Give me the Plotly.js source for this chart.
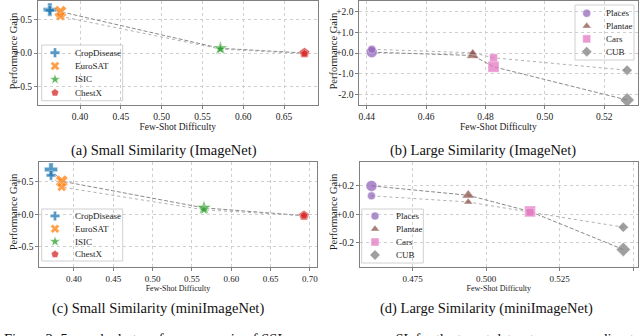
<!DOCTYPE html>
<html><head><meta charset="utf-8">
<script src="https://cdn.plot.ly/plotly-3.0.1.min.js"></script>
<style>html,body{margin:0;padding:0;background:#fff}#chart{width:640px;height:336px}</style>
</head><body><div id="chart"></div>
<script>
// ---------------- Data ----------------
const smallNames = ['CropDisease', 'EuroSAT', 'ISIC', 'ChestX'];
const largeNames = ['Places', 'Plantae', 'Cars', 'CUB'];

// (a) Small Similarity (ImageNet)
const aDifficulty = [0.363, 0.376, 0.572, 0.675];
const aGainDashed = [0.65, 0.62, 0.07, 0.00];
const aGainDotted = [0.64, 0.55, 0.06, -0.01];

// (b) Large Similarity (ImageNet)
const bDifficulty = [0.4417, 0.4757, 0.4827, 0.5277];
const bGainDashed = [0.04, -0.12, -0.66, -2.26];
const bGainDotted = [0.18, 0.01, -0.23, -0.83];

// (c) Small Similarity (miniImageNet)
const cDifficulty = [0.3708, 0.3844, 0.5652, 0.6924];
const cGainDashed = [0.69, 0.51, 0.10, -0.02];
const cGainDotted = [0.60, 0.42, 0.07, -0.02];

// (d) Large Similarity (miniImageNet)
const dDifficulty = [0.461, 0.4939, 0.5149, 0.5466];
const dGainDashed = [0.20, 0.134, 0.020, -0.247];
const dGainDotted = [0.13, 0.087, 0.015, -0.090];

// Tick labels
const aXTicks = [0.40, 0.45, 0.50, 0.55, 0.60, 0.65];
const cXTicks = [0.40, 0.45, 0.50, 0.55, 0.60, 0.65, 0.70];
const bXTicks = [0.44, 0.46, 0.48, 0.50, 0.52];
const dXTicks = [0.475, 0.500, 0.525, 0.550];
const dXTickText = ['0.475', '0.500', '0.525', ''];
const smallYTicks = [-0.5, 0.0, 0.5];
const smallYTickText = ['-0.5', '+0.0', '+0.5'];
const bYTicks = [-2, -1, 0, 1, 2];
const bYTickText = ['-2.0', '-1.0', '+0.0', '+1.0', '+2.0'];
const dYTicks = [-0.2, 0.0, 0.2];
const dYTickText = ['-0.2', '+0.0', '+0.2'];

const captions = ['(a) Small Similarity (ImageNet)', '(b) Large Similarity (ImageNet)',
                  '(c) Small Similarity (miniImageNet)', '(d) Large Similarity (miniImageNet)'];
const figCaptionLeft = 'Figure 3: 5-way k-shot performance gain of SSL';
const figCaptionRight = 'over SL for the target datasets corresponding to';
const xTitle = 'Few-Shot Difficulty';
const yTitle = 'Performance Gain';

// ---------------- Styles ----------------
const SERIF = 'Liberation Serif, Times New Roman, serif';
const smallColors = ['#1f77b4', '#ff7f0e', '#2ca02c', '#d62728'];
const largeColors = ['#9467bd', '#8c564b', '#e377c2', '#7f7f7f'];
const smallSymbols = ['cross', 'x', 'star', 'pentagon'];
const largeSymbols = ['circle', 'triangle-up', 'square', 'diamond'];

const W = 640, H = 336;
const px = p => p / W;
const py = p => 1 - p / H;

const traces = [];
const annotations = [];
const shapes = [];
const layout = {
  width: W, height: H,
  margin: {l: 0, r: 0, t: 0, b: 0},
  paper_bgcolor: '#fff', plot_bgcolor: 'rgba(0,0,0,0)',
  showlegend: false,
  font: {family: SERIF, color: '#222'},
};

function baseAxis(extra) {
  return Object.assign({
    showline: true, mirror: true, linecolor: '#808080', linewidth: 1,
    ticks: 'outside', ticklen: 3, tickwidth: 1, tickcolor: '#808080',
    showgrid: true, gridcolor: '#cfcfcf', griddash: 'dot', gridwidth: 1,
    zeroline: false, fixedrange: true,
  }, extra);
}

function panel(k, box, xr, yr, xt, xtt, xfmt, yt, ytt, xTickSize, xTitleSize, yTitleX, xs, ys1, ys2, names, colors, symbols) {
  const xa = 'xaxis' + (k === 1 ? '' : k), ya = 'yaxis' + (k === 1 ? '' : k);
  const xr_ = 'x' + (k === 1 ? '' : k), yr_ = 'y' + (k === 1 ? '' : k);
  layout[xa] = baseAxis({
    domain: [px(box.x0), px(box.x1)], anchor: yr_, range: xr,
    tickvals: xt, ticktext: xtt, tickformat: xfmt,
    tickfont: {family: SERIF, size: xTickSize, color: '#222'},
    title: {text: xTitle, font: {family: SERIF, size: xTitleSize, color: '#222'}, standoff: 0},
  });
  layout[ya] = baseAxis({
    domain: [py(box.y1), py(box.y0)], anchor: xr_, range: yr,
    tickvals: yt, ticktext: ytt,
    tickfont: {family: SERIF, size: 9.5, color: '#222'},
  });
  // y-axis title placed beside the tick labels
  annotations.push({xref: 'paper', yref: 'paper', x: px(yTitleX), y: py((box.y0 + box.y1) / 2 - 2),
    text: yTitle, textangle: -90, showarrow: false, xanchor: 'center', yanchor: 'middle',
    font: {family: SERIF, size: 10.5, color: '#222'}});
  traces.push({x: xs, y: ys1, xaxis: xr_, yaxis: yr_, mode: 'lines', hoverinfo: 'skip',
    line: {color: '#8a8a8a', width: 1, dash: '4px,2px'}});
  traces.push({x: xs, y: ys2, xaxis: xr_, yaxis: yr_, mode: 'lines', hoverinfo: 'skip',
    line: {color: '#b0b0b0', width: 1, dash: 'dot'}});
  names.forEach((n, i) => {
    traces.push({x: [xs[i], xs[i]], y: [ys1[i], ys2[i]], xaxis: xr_, yaxis: yr_, mode: 'markers', name: n,
      marker: {symbol: symbols[i], color: colors[i], opacity: 0.75, size: [11, 8],
        line: {color: 'rgba(255,255,255,0.6)', width: 0.8}}});
  });
}

function legendBox(k, box, markerX, textX, firstY, step, names, colors, symbols) {
  const xa = 'xaxis' + k, ya = 'yaxis' + k, xr_ = 'x' + k, yr_ = 'y' + k;
  const top = (box.y0 - firstY) / step, bot = (box.y1 - firstY) / step;
  layout[xa] = {domain: [px(box.x0), px(box.x1)], anchor: yr_, range: [box.x0 - markerX, box.x1 - markerX],
    showline: false, showgrid: false, zeroline: false, showticklabels: false, ticks: '', fixedrange: true};
  layout[ya] = {domain: [py(box.y1), py(box.y0)], anchor: xr_, range: [bot, top],
    showline: false, showgrid: false, zeroline: false, showticklabels: false, ticks: '', fixedrange: true};
  shapes.push({type: 'rect', xref: xr_ + ' domain', yref: yr_ + ' domain', x0: 0, x1: 1, y0: 0, y1: 1,
    line: {color: '#d0d0d0', width: 1}, fillcolor: 'rgba(255,255,255,0.88)', layer: 'below'});
  traces.push({x: names.map(() => 0), y: names.map((_, i) => i), xaxis: xr_, yaxis: yr_, mode: 'markers',
    hoverinfo: 'skip', marker: {symbol: symbols, color: colors, opacity: 0.75, size: 8,
      line: {color: 'rgba(255,255,255,0.6)', width: 0.8}}});
  names.forEach((n, i) => {
    annotations.push({xref: xr_, yref: yr_, x: textX - markerX, y: i, text: n, showarrow: false,
      xanchor: 'left', yanchor: 'middle', font: {family: SERIF, size: 9, color: '#222'}});
  });
}

panel(1, {x0: 38, x1: 317.5, y0: 1, y1: 105}, [0.3485, 0.691], [-0.78, 0.78],
  aXTicks, null, '.2f', smallYTicks, smallYTickText, 9.5, 9.5, 12.5, aDifficulty, aGainDashed, aGainDotted,
  smallNames, smallColors, smallSymbols);
panel(2, {x0: 359.3, x1: 637.5, y0: 1, y1: 105}, [0.4375, 0.5312], [-2.5, 2.5],
  bXTicks, null, '.2f', bYTicks, bYTickText, 9.5, 9.5, 332.5, bDifficulty, bGainDashed, bGainDotted,
  largeNames, largeColors, largeSymbols);
panel(3, {x0: 39.3, x1: 316.5, y0: 161.7, y1: 267}, [0.3559, 0.7083], [-0.81, 0.81],
  cXTicks, null, '.2f', smallYTicks, smallYTickText, 9, 8, 13, cDifficulty, cGainDashed, cGainDotted,
  smallNames, smallColors, smallSymbols);
panel(4, {x0: 360, x1: 637.7, y0: 161.7, y1: 267}, [0.4571, 0.5515], [-0.37, 0.37],
  dXTicks, dXTickText, null, dYTicks, dYTickText, 9, 8, 333, dDifficulty, dGainDashed, dGainDotted,
  largeNames, largeColors, largeSymbols);

legendBox(5, {x0: 41.7, x1: 122.7, y0: 45, y1: 100.7}, 55, 72.7, 52.7, 13.33, smallNames, smallColors, smallSymbols);
legendBox(6, {x0: 575, x1: 634, y0: 5, y1: 60}, 586.7, 604, 13.3, 12.8, largeNames, largeColors, largeSymbols);
legendBox(7, {x0: 41.7, x1: 122.7, y0: 209, y1: 261}, 55, 72.7, 216, 12.77, smallNames, smallColors, smallSymbols);
legendBox(8, {x0: 361.7, x1: 423.3, y0: 209, y1: 263}, 375, 394, 216, 13, largeNames, largeColors, largeSymbols);

// captions
const capPos = [[164, 150], [483, 150], [158, 308], [486, 308]];
captions.forEach((c, i) => {
  annotations.push({xref: 'paper', yref: 'paper', x: px(capPos[i][0]), y: py(capPos[i][1]), text: c,
    showarrow: false, xanchor: 'center', yanchor: 'middle', font: {family: SERIF, size: 14.5, color: '#111'}});
});
annotations.push({xref: 'paper', yref: 'paper', x: px(2), y: py(339), text: figCaptionLeft, showarrow: false,
  xanchor: 'left', yanchor: 'middle', font: {family: SERIF, size: 14.5, color: '#111'}});
annotations.push({xref: 'paper', yref: 'paper', x: px(643), y: py(339), text: figCaptionRight, showarrow: false,
  xanchor: 'right', yanchor: 'middle', font: {family: SERIF, size: 14.5, color: '#111'}});

layout.annotations = annotations;
layout.shapes = shapes;

Plotly.newPlot('chart', traces, layout, {staticPlot: true, displayModeBar: false});
</script></body></html>
